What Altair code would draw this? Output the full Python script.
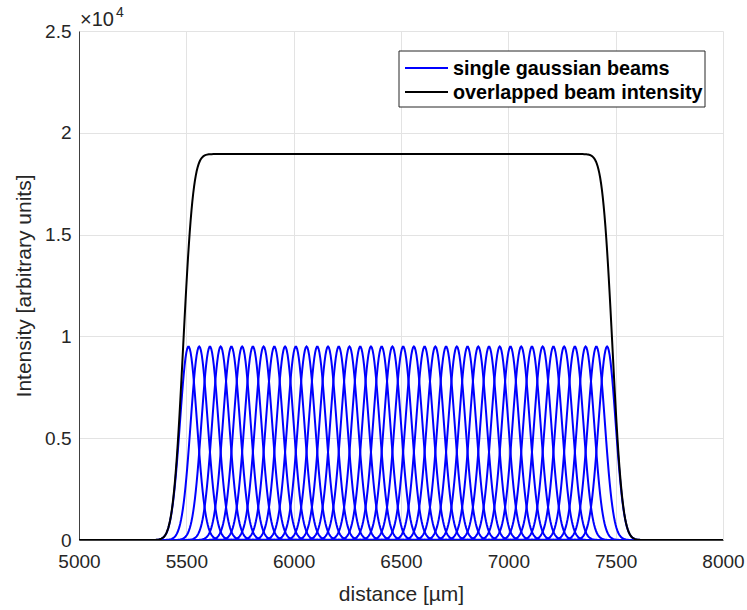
import altair as alt
import numpy as np
import pandas as pd

# ---- values ----
BEAM_CENTERS = [5510, 5560, 5610, 5660, 5710, 5760, 5810, 5860, 5910, 5960,
                6010, 6060, 6110, 6160, 6210, 6260, 6310, 6360, 6410, 6460,
                6510, 6560, 6610, 6660, 6710, 6760, 6810, 6860, 6910, 6960,
                7010, 7060, 7110, 7160, 7210, 7260, 7310, 7360, 7410, 7460]
BEAM_PEAK = 9500.0      # peak intensity of each single beam
BEAM_SIGMA = 39.8       # gaussian width (µm)
X_RANGE = [5000, 8000]
Y_RANGE = [0, 25000]
X_TICKS = [5000, 5500, 6000, 6500, 7000, 7500, 8000]
Y_TICKS = [0, 5000, 10000, 15000, 20000, 25000]
SERIES = ["single gaussian beams", "overlapped beam intensity"]
COLORS = ["#0000ff", "#000000"]

xs = np.arange(X_RANGE[0], X_RANGE[1] + 0.5, 4.0)
rows = []
total = np.zeros_like(xs)
for i, c in enumerate(BEAM_CENTERS):
    y = BEAM_PEAK * np.exp(-0.5 * ((xs - c) / BEAM_SIGMA) ** 2)
    total += y
    y = np.round(y, 1)
    for xv, yv in zip(xs, y):
        rows.append((float(xv), float(yv), i, SERIES[0]))
beams = pd.DataFrame(rows, columns=["x", "y", "beam", "series"])
overlap = pd.DataFrame({"x": xs, "y": np.round(total, 1), "beam": -1, "series": SERIES[1]})

color = alt.Color("series:N", scale=alt.Scale(domain=SERIES, range=COLORS), legend=None)

xax = alt.X("x:Q", scale=alt.Scale(domain=X_RANGE, nice=False, zero=False),
            axis=alt.Axis(values=X_TICKS, title="distance [µm]", format="d",
                          labelFlush=False, labelOverlap=False,
                          labelPadding=12, titlePadding=12))
yax = alt.Y("y:Q", scale=alt.Scale(domain=Y_RANGE, nice=False),
            axis=alt.Axis(values=Y_TICKS, title="Intensity [arbitrary units]",
                          labelExpr="datum.value / 10000", labelPadding=8,
                          labelFlush=False, labelOverlap=False,
                          titlePadding=10))

beam_layer = alt.Chart(beams).mark_line(strokeWidth=2, clip=True).encode(
    x=xax, y=yax, color=color, detail="beam:N")
sum_layer = alt.Chart(overlap).mark_line(strokeWidth=2, clip=True).encode(
    x="x:Q", y="y:Q", color=color)

exp_main = alt.Chart(pd.DataFrame({"t": ["×10"]})).mark_text(
    align="left", baseline="alphabetic", fontSize=20, font="Liberation Sans",
    color="#262626").encode(text="t:N", x=alt.value(1), y=alt.value(-5))
exp_sup = alt.Chart(pd.DataFrame({"t": ["4"]})).mark_text(
    align="left", baseline="alphabetic", fontSize=14, font="Liberation Sans",
    color="#262626").encode(text="t:N", x=alt.value(37), y=alt.value(-14))

# ---- legend (box, sample lines, labels) ----
leg_box = alt.Chart(pd.DataFrame({"k": [0]})).mark_rect(
    fill="white", stroke="#262626", strokeWidth=1).encode(
    x=alt.value(320), x2=alt.value(626), y=alt.value(20), y2=alt.value(76))
leg_line1 = alt.Chart(pd.DataFrame({"k": [0]})).mark_rule(
    color=COLORS[0], strokeWidth=2).encode(
    x=alt.value(326), x2=alt.value(369), y=alt.value(37))
leg_line2 = alt.Chart(pd.DataFrame({"k": [0]})).mark_rule(
    color=COLORS[1], strokeWidth=2).encode(
    x=alt.value(326), x2=alt.value(369), y=alt.value(61))
leg_text1 = alt.Chart(pd.DataFrame({"t": [SERIES[0]]})).mark_text(
    align="left", baseline="middle", fontSize=19.8, fontWeight="bold",
    font="Liberation Sans", color="#000000").encode(
    text="t:N", x=alt.value(374), y=alt.value(38))
leg_text2 = alt.Chart(pd.DataFrame({"t": [SERIES[1]]})).mark_text(
    align="left", baseline="middle", fontSize=19.8, fontWeight="bold",
    font="Liberation Sans", color="#000000").encode(
    text="t:N", x=alt.value(374), y=alt.value(62))

chart = alt.layer(beam_layer, sum_layer, exp_main, exp_sup,
                  leg_box, leg_line1, leg_line2, leg_text1, leg_text2).properties(
    width=644, height=509,
    autosize=alt.AutoSizeParams(type="none"),
    padding={"left": 79, "top": 31, "right": 24, "bottom": 70},
    background="white",
).configure_view(stroke=None).configure_axis(
    labelFont="Liberation Sans", titleFont="Liberation Sans",
    labelFontSize=19, titleFontSize=21, titleFontWeight="normal",
    labelColor="#262626", titleColor="#262626",
    domainColor="#404040", domainWidth=1,
    gridColor="#e3e3e3", gridWidth=1, ticks=False,
)

chart.save("out.html", embed_options={"renderer": "svg", "actions": False})
